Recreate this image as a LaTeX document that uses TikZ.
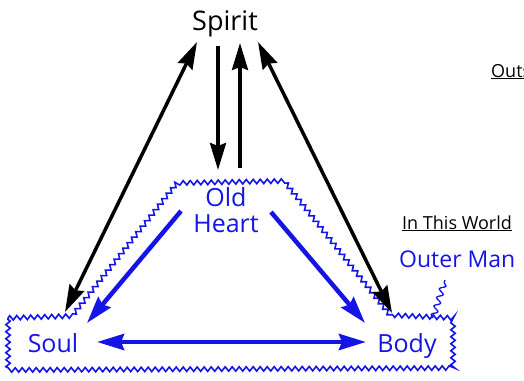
\documentclass[tikz,border=0pt]{standalone}
\usepackage{fontspec}
\setmainfont{Open Sans}
\usepackage{xcolor}
\usepackage{tikz}
\usetikzlibrary{positioning,arrows.meta,calc,decorations.pathmorphing}
\definecolor{manblue}{HTML}{1414E6}
\tikzset{bighead/.tip={Stealth[length=27pt,width=16pt,inset=3pt]}}

\begin{document}
\begin{tikzpicture}[x=1pt,y=-1pt,
    blackarrow/.style={line width=3.5pt, black},
    bluearrow/.style={line width=4.5pt, manblue},
    wavy/.style={manblue, line width=1.6pt, decorate,
                 decoration={zigzag, segment length=7pt, amplitude=2.2pt}},
    label/.style={inner sep=0pt, anchor=base}]
  \useasboundingbox (0,0) rectangle (524,380);

  % the three parts
  \node[label, font=\fontsize{27}{29}\selectfont] (spirit) at (225,30) {Spirit};
  \node[inner sep=0pt, align=center, text=manblue, font=\fontsize{25}{26}\selectfont]
    (heart) at (226,210) {Old\\Heart};
  \node[label, text=manblue, font=\fontsize{25}{27}\selectfont] (soul) at (53,352) {Soul};
  \node[label, text=manblue, font=\fontsize{25}{27}\selectfont] (body) at (407,352) {Body};

  % side labels
  \node[label, anchor=base west, font=\fontsize{18}{20}\selectfont] (outs) at (491,77) {\underline{Outs}};
  \node[label, anchor=base west, font=\fontsize{18}{20}\selectfont] (world) at (402,229) {\underline{In This World}};
  \node[label, anchor=base west, text=manblue, font=\fontsize{23}{25}\selectfont] (outer) at (399,267) {Outer Man};

  % outline of the outer man
  \draw[wavy] (8,318) -- (72,316) -- (177,183) -- (284,181) -- (390,315)
    -- (453,318) -- (453,368) -- (8,370) -- cycle;
  \coordinate (mantip) at (433,318);
  \draw[manblue, line width=1.3pt, decorate,
        decoration={snake, segment length=9pt, amplitude=2.8pt}]
    (mantip) -- ($(outer.base west)+(46,13)$);

  % spirit arrows
  \draw[blackarrow, bighead-bighead] ($(spirit.base)+(-28,12)$) -- ($(soul.base)+(12,-40)$);
  \draw[blackarrow, -bighead] ($(spirit.base)+(-7,16)$) -- ($(heart)+(-8,-40)$);
  \draw[blackarrow, -bighead] ($(heart)+(14,-42)$) -- ($(spirit.base)+(15,13)$);
  \draw[blackarrow, bighead-bighead] ($(spirit.base)+(33,12)$) -- ($(body.base)+(-15,-39)$);

  % heart arrows
  \draw[bluearrow, -bighead] ($(heart)+(-45,1)$) -- ($(soul.base)+(34,-29)$);
  \draw[bluearrow, -bighead] ($(heart)+(45,2)$) -- ($(body.base)+(-42,-29)$);
  \draw[bluearrow, bighead-bighead] ($(soul.base)+(44,-10)$) -- ($(body.base)+(-41,-10)$);
\end{tikzpicture}
\end{document}
